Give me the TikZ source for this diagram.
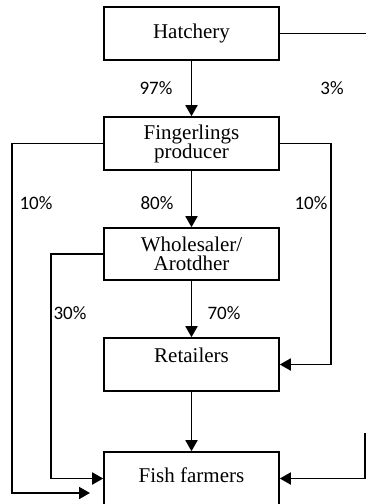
\documentclass[tikz,border=0pt]{standalone}
\usepackage{fontspec}
\setmainfont{Liberation Serif}
\newfontfamily\labfont{Carlito}
\usetikzlibrary{arrows.meta}
\tikzset{
  box/.style={draw, line width=1.6pt, minimum width=175pt, minimum height=53pt, inner sep=0pt, align=center, font=\fontsize{21}{19}\selectfont},
  conn/.style={line width=1.8pt},
  arr/.style={conn, -{Triangle[length=11pt,width=12pt]}},
  pct/.style={font=\labfont\fontsize{19}{20}\selectfont, inner sep=0pt}
}
\begin{document}
\begin{tikzpicture}[x=1pt,y=-1pt]
\useasboundingbox (0,0) rectangle (366,504);
\node[box] (hatch) at (191.5,33.5) {\raisebox{3pt}{Hatchery}};
\node[box] (fing) at (191.5,143.5) {\raisebox{3pt}{\shortstack{Fingerlings\\[-3pt]producer}}};
\node[box, minimum height=52pt] (whole) at (191.5,254) {Wholesaler/\\Arotdher};
\node[box] (retail) at (191.5,364.5) {Retailers\\\mbox{}};
\node[box] (fish) at (191.5,478.5) {\raisebox{6pt}{Fish farmers}};
\coordinate (edge) at (366,33.5);
\coordinate (rtop) at (365,433);
\coordinate (lend) at (90,493);
\draw[arr] (hatch) -- (fing);
\draw[arr] (fing) -- (whole);
\draw[arr] (whole) -- (retail);
\draw[arr] (retail) -- (fish);
\draw[conn] (hatch.east) -- (edge);
\draw[arr] (rtop) |- (fish.east);
\draw[arr] (fing.west) -- (12,143.5) |- (lend);
\draw[arr] (fing.east) -- (331,143.5) |- (retail.east);
\draw[arr] (whole.west) -- (51,254) |- (fish.west);
\node[pct] (p97) at (156,88) {97\%};
\node[pct] (p3) at (332,88) {3\%};
\node[pct] (p10a) at (36,203) {10\%};
\node[pct] (p80) at (157,203) {80\%};
\node[pct] (p10b) at (311,203) {10\%};
\node[pct] (p30) at (70,313) {30\%};
\node[pct] (p70) at (224,313) {70\%};
\end{tikzpicture}
\end{document}
